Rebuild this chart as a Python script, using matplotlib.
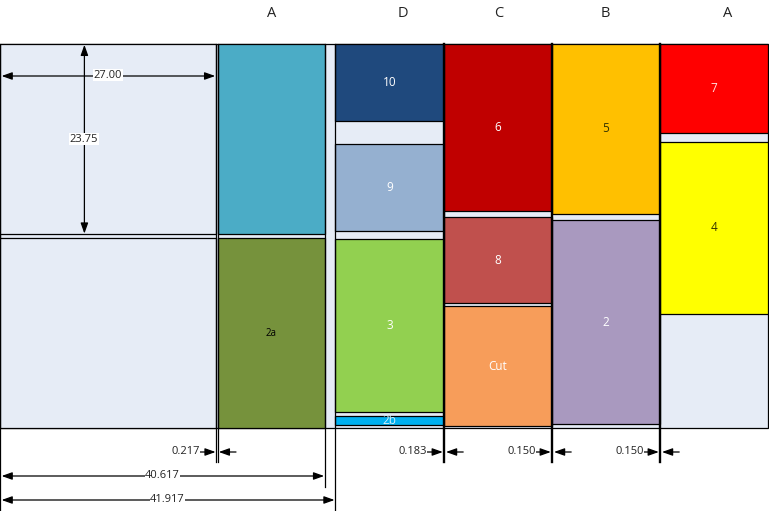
import matplotlib
matplotlib.use('Agg')
import matplotlib.pyplot as plt
from matplotlib.patches import Rectangle

plt.rcParams['font.family'] = ['Open Sans', 'DejaVu Sans']

# sheet layout, inches (8 px per inch in the picture), y measured down from sheet top
sheet_w = 96.0
sheet_h = 48.0
bg = '#E6ECF6'

# name, x0, x1, y0, y1, colour, text colour
block_names = ['', '', '', '2a', '10', '9', '3', '2b', '6', '8', 'Cut', '5', '2', '7', '4']
block_x0 = [0, 0, 27.217, 27.217, 41.917, 41.917, 41.917, 41.917, 55.5, 55.5, 55.5, 69.0, 69.0, 82.5, 82.5]
block_x1 = [27, 27, 40.617, 40.617, 55.5, 55.5, 55.5, 55.5, 69.0, 69.0, 69.0, 82.5, 82.5, 96.0, 96.0]
block_y0 = [0, 24.25, 0, 24.25, 0, 12.5, 24.4, 46.5, 0, 21.6, 32.75, 0, 22.0, 0, 12.2]
block_y1 = [23.75, 48, 23.75, 48, 9.6, 23.4, 46.0, 47.6, 20.9, 32.4, 47.75, 21.25, 47.5, 11.1, 33.75]
block_colors = [bg, bg, '#4BACC6', '#76923C', '#1F497D', '#95B0D0', '#92D050', '#00B0F0',
                '#C00000', '#C0504D', '#F79D5A', '#FFC000', '#A999BF', '#FF0000', '#FFFF00']
text_colors = ['k', 'k', 'k', 'k', 'w', 'w', 'w', '#CFEFFA', 'w', 'w', 'w', '#333300', 'w', '#FFE0E0', '#333300']

# column headings
col_names = ['A', 'D', 'C', 'B', 'A']
col_x = [33.9, 50.4, 62.4, 75.7, 90.9]
col_y = -3.85

# saw kerf lines below the sheet: x, bottom y, width
ext_x = [27.0, 27.217, 40.617, 41.917, 55.5, 69.0, 82.5]
ext_y = [52.25, 52.25, 55.4, 58.4, 52.25, 52.25, 52.25]
ext_lw = [0.9, 0.9, 0.9, 0.9, 1.7, 1.7, 1.7]

# long dimensions: x0, x1, y, text
long_x0 = [0, 0]
long_x1 = [40.617, 41.917]
long_y = [54.0, 57.0]
long_text = ['40.617', '41.917']

# small gap dimensions: gap left edge, gap right edge, text
gap_left = [27.0, 55.4, 68.9, 82.4]
gap_right = [27.3, 55.7, 69.2, 82.7]
gap_y = 51.0
gap_text = ['0.217', '0.183', '0.150', '0.150']
gap_text_x = [23.2, 51.6, 65.2, 78.7]

fig = plt.figure(figsize=(7.69, 5.11), dpi=100)
ax = fig.add_axes([0, 0, 1, 1])
ax.set_xlim(0, 96.125)
ax.set_ylim(58.375, -5.5)
ax.axis('off')


def dim_arrow(x0, y0, x1, y1):
    ax.annotate('', xy=(x1, y1), xytext=(x0, y0), zorder=5,
                arrowprops=dict(arrowstyle='-|>,head_length=0.7,head_width=0.25', color='k', lw=0.9,
                                shrinkA=0, shrinkB=0, mutation_scale=9))


def dim_label(x, y, s):
    ax.text(x, y, s, fontsize=8, ha='center', va='center', color='#222222', zorder=6,
            bbox=dict(facecolor='white', edgecolor='none', pad=0.3))


# sheet background
ax.add_patch(Rectangle((0.06, 0), sheet_w - 0.06, sheet_h, facecolor=bg, edgecolor='k', lw=0.9, zorder=1))

for name, x0, x1, y0, y1, c, tc in zip(block_names, block_x0, block_x1, block_y0, block_y1,
                                       block_colors, text_colors):
    ax.add_patch(Rectangle((x0, y0), x1 - x0, y1 - y0, facecolor=c, edgecolor='k', lw=0.9, zorder=2))
    if name:
        fs = 7 if name == '2a' else 8.5
        ax.text((x0 + x1) / 2, (y0 + y1) / 2, name, fontsize=fs, color=tc, ha='center', va='center', zorder=3)

for name, x in zip(col_names, col_x):
    ax.text(x, col_y, name, fontsize=10.5, color='#222222', ha='center', va='center')

# cut lines through the sheet and below it
ax.plot([0.06, 0.06], [0, 58.375], color='k', lw=0.9, zorder=4)
for x, y, lw in zip(ext_x, ext_y, ext_lw):
    ax.plot([x, x], [0, y], color='k', lw=lw, zorder=4)

# dimensions on the first block
dim_arrow(13.5, 4.0, 0.2, 4.0)
dim_arrow(13.5, 4.0, 26.9, 4.0)
dim_label(13.5, 3.9, '27.00')
dim_arrow(10.55, 12, 10.55, 0.1)
dim_arrow(10.55, 12, 10.55, 23.7)
dim_label(10.5, 11.9, '23.75')

for x0, x1, y, s in zip(long_x0, long_x1, long_y, long_text):
    dim_arrow((x0 + x1) / 2, y, x0 + 0.2, y)
    dim_arrow((x0 + x1) / 2, y, x1 - 0.1, y)
    dim_label((x0 + x1) / 2, y, s)

for left, right, s, tx in zip(gap_left, gap_right, gap_text, gap_text_x):
    dim_arrow(left - 2.2, gap_y, left - 0.05, gap_y)
    dim_arrow(right + 2.2, gap_y, right + 0.05, gap_y)
    dim_label(tx, gap_y, s)

fig.savefig('out.png', dpi=100, facecolor='white')
